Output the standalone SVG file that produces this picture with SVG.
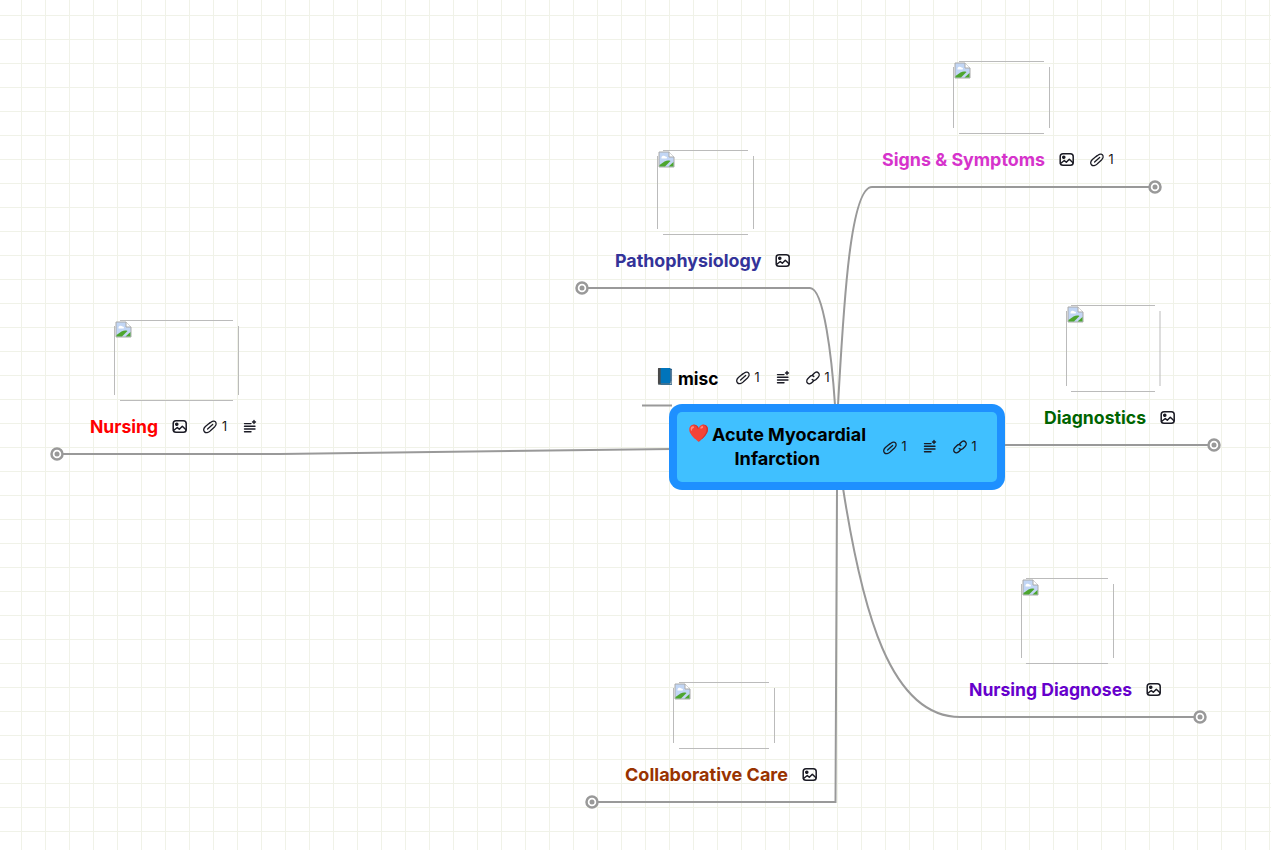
<svg xmlns="http://www.w3.org/2000/svg" width="1271" height="850" viewBox="0 0 1271 850">
<style>
text{font-family:"Inter","Liberation Sans",sans-serif;font-weight:700}
.t{font-size:18px}
.n{font-size:12.500px;font-weight:400;fill:#111}
.e{font-family:"Noto Color Emoji","Inter",sans-serif;font-weight:400}
.c{fill:none;stroke:#999;stroke-width:2}
.f{stroke:#bbb;stroke-width:1;fill:none}
.i{fill:none;stroke:#1a1a24;stroke-width:1.400;stroke-linecap:round;stroke-linejoin:round}
.r{fill:#fff;stroke:#999;stroke-width:2.500}
.d{fill:#999}
</style>
<defs>
<pattern id="g" width="24" height="24" patternUnits="userSpaceOnUse" x="21" y="15"><path d="M.5 0V24M0 .5H24" stroke="#f0f2e8" fill="none"/></pattern>
<g id="pic" class="i"><rect x="0.700" y="0.700" width="13" height="11.600" rx="2.800" stroke-width="1.500"/><circle cx="4.300" cy="4.300" r="1.100" fill="#1a1a24"/><path d="M1 10.500L4.800 7.500L6.800 9.300L9.800 6.300L13.500 9.800" stroke-width="1.500"/></g>
<g id="clip" class="i"><path transform="translate(0 .8) scale(.92)" d="M6.500 4.200L9 2.300C11 .8 13.600 1.200 14.200 3.200C14.800 5 13.800 6.500 12.500 7.800L8 12C6 14 3 14.800 1.600 13C.2 11.200 1 8.800 2.600 7.200L7.500 3.200M5 10L10.500 5"/></g>
<g id="note" class="i"><path d="M.5 4.600H7M.5 7.300H11M.5 10H11M.5 12.700H7M10 1.500V4.500M8.500 3H11.500"/></g>
<g id="link" class="i"><path d="M6 4.500L8 2.500C9.500 1 11.500 1 12.500 2S13.500 5 12 6.500L10 8.500C8.800 9.600 7.200 9.500 6.200 8.500M8 9.500L6 11.500C4.500 13 2.500 13 1.500 12S.5 9 2 7.500L4 5.500C5.200 4.400 6.800 4.500 7.800 5.500"/></g>
<g id="broken"><path d="M0.500 .5H10.500L15.500 5.500V15.500H.5Z" fill="#c2d6f5" stroke="#aaa" stroke-width="1"/><path d="M3 6C3 4 6 3.500 7 5C8.500 5 9 6.500 8 7H3Z" fill="#fff"/><path d="M1 15V13.500L6 10C8.500 8.800 10.500 9 12 9.500L6.500 15Z" fill="#4da52e"/><path d="M10 15L15 10.500V15Z" fill="#4da52e"/><path d="M10.500 .5V5.500H15.500" fill="#fff" stroke="#aaa"/></g>
</defs>
<rect width="1271" height="850" fill="#fff"/>
<rect width="1271" height="850" fill="url(#g)"/>
<g id="connectors">
<path class="c" d="M838 405C843 320 849 187 872 187H1155"/>
<path class="c" d="M582 288H810C824 288 832 360 835 405"/>
<path class="c" d="M642 405.500H672"/>
<path class="c" d="M57 454H280L672 449"/>
<path class="c" d="M1002 445H1214"/>
<path class="c" d="M843 488C862 610 890 717 960 717H1200"/>
<path class="c" d="M592 802H835.500L837 488"/>
<g class="r"><circle cx="1155" cy="187" r="5.500"/><circle cx="582" cy="288" r="5.500"/><circle cx="57" cy="454" r="5.500"/><circle cx="1214" cy="445" r="5.500"/><circle cx="1200" cy="717" r="5.500"/><circle cx="592" cy="802" r="5.500"/></g>
<g class="d"><circle cx="1155" cy="187" r="2.500"/><circle cx="582" cy="288" r="2.500"/><circle cx="57" cy="454" r="2.500"/><circle cx="1214" cy="445" r="2.500"/><circle cx="1200" cy="717" r="2.500"/><circle cx="592" cy="802" r="2.500"/></g>
</g>
<g id="root">
<rect x="669" y="404" width="336" height="86" rx="13" fill="#1e90ff"/>
<rect x="677" y="412" width="320" height="70" rx="5" fill="#40c0ff"/>
<text class="e" x="688" y="439" font-size="17">❤️</text>
<text class="t" x="712" y="441" textLength="154" lengthAdjust="spacingAndGlyphs">Acute Myocardial</text>
<text class="t" x="734.500" y="465" textLength="85.500" lengthAdjust="spacingAndGlyphs">Infarction</text>
<use href="#clip" x="883" y="440"/><text class="n" x="901.500" y="451">1</text>
<use href="#note" x="924" y="439"/>
<use href="#link" x="953" y="440"/><text class="n" x="971.500" y="451">1</text>
</g>
<g id="misc">
<text class="e" x="655" y="382" font-size="16" style="filter:brightness(.8)">📘</text>
<text class="t" x="678" y="385" textLength="40.500" lengthAdjust="spacingAndGlyphs">misc</text>
<use href="#clip" x="736" y="370"/><text class="n" x="754.500" y="382">1</text>
<use href="#note" x="777" y="370"/>
<use href="#link" x="806" y="371"/><text class="n" x="824.500" y="382">1</text>
</g>
<g id="nursing">
<path class="f" d="M120 320.500H233M238.500 326V395M233 400.500H120M114.500 395V326"/>
<use href="#broken" x="115.500" y="321.500"/>
<text class="t" x="90" y="433" fill="#f00" textLength="68" lengthAdjust="spacingAndGlyphs">Nursing</text>
<use href="#pic" x="172.500" y="420"/>
<use href="#clip" x="203" y="419"/><text class="n" x="222" y="431">1</text>
<use href="#note" x="244" y="419"/>
</g>
<g id="signs">
<path class="f" d="M959 61.500H1044M1049.500 67V128M1044 133.500H959M953.500 128V67"/>
<use href="#broken" x="954.500" y="62.500"/>
<text class="t" x="882" y="166" fill="#d633cc" textLength="163" lengthAdjust="spacingAndGlyphs">Signs &amp; Symptoms</text>
<use href="#pic" x="1059.500" y="153"/>
<use href="#clip" x="1090" y="152"/><text class="n" x="1108.500" y="164">1</text>
</g>
<g id="patho">
<path class="f" d="M663 150.500H748M753.500 156V229M748 234.500H663M657.500 229V156"/>
<use href="#broken" x="658.500" y="151.500"/>
<text class="t" x="615" y="267" fill="#333399" textLength="146.500" lengthAdjust="spacingAndGlyphs">Pathophysiology</text>
<use href="#pic" x="775.500" y="254"/>
</g>
<g id="diagnostics">
<path class="f" d="M1071 305.500H1155M1160 311V386M1155 391.500H1071M1066.500 386V311"/>
<use href="#broken" x="1067.500" y="306.500"/>
<text class="t" x="1044" y="424" fill="#006400" textLength="102" lengthAdjust="spacingAndGlyphs">Diagnostics</text>
<use href="#pic" x="1160.500" y="411"/>
</g>
<g id="nursing-diagnoses">
<path class="f" d="M1026 578.500H1108M1113.500 584V658M1108 663.500H1026M1021.500 658V584"/>
<use href="#broken" x="1022.500" y="579.500"/>
<text class="t" x="969" y="696" fill="#6600cc" textLength="163" lengthAdjust="spacingAndGlyphs">Nursing Diagnoses</text>
<use href="#pic" x="1146.500" y="683"/>
</g>
<g id="collaborative-care">
<path class="f" d="M679 682.500H769M774.500 688V743M769 748.500H679M673.500 743V688"/>
<use href="#broken" x="674.500" y="683.500"/>
<text class="t" x="625" y="781" fill="#993300" textLength="163" lengthAdjust="spacingAndGlyphs">Collaborative Care</text>
<use href="#pic" x="802.500" y="768"/>
</g>
</svg>
